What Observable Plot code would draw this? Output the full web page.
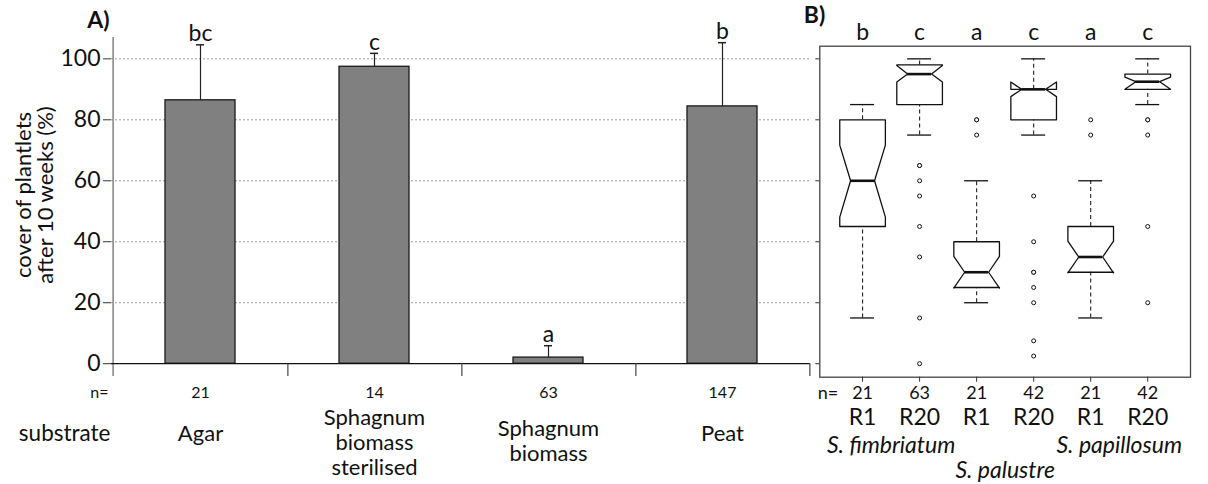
<!DOCTYPE html>
<html>
<head>
<meta charset="utf-8">
<script src="https://cdn.jsdelivr.net/npm/d3@7"></script>
<script src="https://cdn.jsdelivr.net/npm/@observablehq/plot@0.6"></script>
<style>
  body { margin: 0; background: #fff; }
  #wrap { position: relative; width: 1208px; height: 484px; font-family: Lato, sans-serif; }
  #wrap svg { position: absolute; left: 0; top: 0; overflow: visible; }
</style>
</head>
<body>
<div id="wrap"></div>
<script>
// ---------- Panel A data ----------
const substrates = ["Agar", "Sphagnum biomass sterilised", "Sphagnum biomass", "Peat"];
const substrateLabels = ["Agar", "Sphagnum\nbiomass\nsterilised", "Sphagnum\nbiomass", "Peat"];
const coverMean = [86.4, 97.4, 2.0, 84.4];
const coverUpper = [104.6, 101.8, 5.9, 105.3];
const lettersA = ["bc", "c", "a", "b"];
const nA = [21, 14, 63, 147];
const yTicks = [0, 20, 40, 60, 80, 100];

// ---------- Panel B data ----------
const groups = ["R1", "R20", "R1", "R20", "R1", "R20"];
const species = ["S. fimbriatum", "S. fimbriatum", "S. palustre", "S. palustre", "S. papillosum", "S. papillosum"];
const nB = [21, 63, 21, 42, 21, 42];
const lettersB = ["b", "c", "a", "c", "a", "c"];
const whiskerLow = [15, 75, 20, 75, 15, 85];
const q1 = [45, 85, 25, 80, 30, 90];
const notchLow = [48.1, 92.4, 24.8, 87.6, 29.8, 90];
const median = [60, 95, 30, 90, 35, 92.5];
const notchHigh = [71.7, 97.8, 35.2, 92.4, 40.2, 94];
const q3 = [80, 98, 40, 90, 45, 95];
const whiskerHigh = [85, 100, 60, 100, 60, 100];
const outliers = [
  [],
  [65, 65, 60, 55, 45, 35, 15, 0],
  [80, 80, 75],
  [55, 40, 30, 30, 25, 20, 7.5, 2.5],
  [80, 75],
  [80, 80, 75, 45, 20]
];

const FONT = "Lato, sans-serif";
const W = 1208, H = 484;

// ---------- Panel A ----------
const tableA = substrates.map((s, i) => ({
  substrate: s, label: substrateLabels[i], lines: substrateLabels[i].split("\n").length,
  mean: coverMean[i], upper: coverUpper[i], letter: lettersA[i], n: nA[i]
}));
const aLeft = 111, aRight = 810;
const stepA = (aRight - aLeft) / substrates.length; // paddingInner .6 + 2*paddingOuter .3 => step = range/n
const yDomA = [-4.2, 107];
const labelDy = {1: 57, 2: 64, 3: 65.5};

const plotA = Plot.plot({
  width: W, height: H,
  marginLeft: aLeft, marginRight: W - aRight, marginTop: 37, marginBottom: 108,
  style: {fontFamily: FONT, fontSize: "16px", background: "transparent", overflow: "visible", color: "#111"},
  x: {domain: substrates, paddingInner: 0.6, paddingOuter: 0.3, axis: null},
  y: {domain: yDomA, label: null},
  marks: [
    Plot.ruleY(yTicks.filter(d => d > 0), {stroke: "#9a9a9a", strokeDasharray: "2,2", strokeWidth: 1}),
    Plot.axisY({ticks: yTicks, tickSize: 8, tickPadding: 3, fontSize: 23, label: null, stroke: "#333"}),
    Plot.ruleX(tableA.slice(0, 1), {x: "substrate", dx: -stepA / 2, y1: yDomA[0], y2: yDomA[1], stroke: "#8a8a8a", strokeWidth: 1.6}),
    Plot.ruleX(tableA, {x: "substrate", y1: "mean", y2: "upper", stroke: "#222", strokeWidth: 1.2}),
    Plot.tickY(tableA, {x: "substrate", y: "upper", insetLeft: 31, insetRight: 31, stroke: "#222", strokeWidth: 1.5}),
    Plot.barY(tableA, {x: "substrate", y: "mean", fill: "#808080", stroke: "#1a1a1a", strokeWidth: 1.3}),
    Plot.ruleY([0], {stroke: "#111", strokeWidth: 1.3}),
    Plot.ruleX(tableA, {x: "substrate", dx: stepA / 2, y1: yDomA[0], y2: 0, stroke: "#444", strokeWidth: 1.2}),
    Plot.text(tableA, {x: "substrate", y: "upper", text: "letter", lineAnchor: "middle", dy: -11, fontSize: 23, fill: "#111"}),
    Plot.text(tableA, {x: "substrate", text: d => String(d.n), frameAnchor: "bottom", lineAnchor: "middle", dy: 16, fontSize: 16, fill: "#111"}),
    ...[1, 2, 3].map(k => Plot.text(tableA.filter(d => d.lines === k), {
      x: "substrate", text: "label", frameAnchor: "bottom", lineAnchor: "middle", dy: labelDy[k],
      lineHeight: 1.12, fontSize: 22, fill: "#111"
    })),
    Plot.text(["n="], {frameAnchor: "bottom-left", textAnchor: "end", lineAnchor: "middle", dx: -3, dy: 16, fontSize: 16, fill: "#111"}),
    Plot.text(["substrate"], {frameAnchor: "bottom-left", textAnchor: "end", lineAnchor: "middle", dx: -1, dy: 57, fontSize: 22.5, fill: "#111"}),
    Plot.text(["A)"], {frameAnchor: "top-left", textAnchor: "end", lineAnchor: "middle", dx: -2, dy: -17, fontSize: 23, fontWeight: "bold", fill: "#111"}),
    Plot.text(["cover of plantlets\nafter 10 weeks (%)"], {frameAnchor: "left", rotate: -90, textAnchor: "middle", lineAnchor: "middle", dx: -77, dy: -12, lineHeight: 1.0, fontSize: 22, fill: "#111"})
  ]
});

// ---------- Panel B ----------
const boxes = groups.map((g, i) => ({
  idx: i + 1, group: g, species: species[i], n: nB[i], letter: lettersB[i],
  wlo: whiskerLow[i], q1: q1[i], lo: notchLow[i], med: median[i], hi: notchHigh[i], q3: q3[i], whi: whiskerHigh[i]
}));
const boxHalf = 0.4, notchHalf = 0.21;
const outline = boxes.flatMap(b => [
  [b.idx - boxHalf, b.q1], [b.idx - boxHalf, b.lo], [b.idx - notchHalf, b.med], [b.idx - boxHalf, b.hi], [b.idx - boxHalf, b.q3],
  [b.idx + boxHalf, b.q3], [b.idx + boxHalf, b.hi], [b.idx + notchHalf, b.med], [b.idx + boxHalf, b.lo], [b.idx + boxHalf, b.q1],
  [b.idx - boxHalf, b.q1]
].map(([x, y]) => ({idx: b.idx, x, y})));
const outlierRows = boxes.flatMap((b, i) => outliers[i].map(v => ({idx: b.idx, value: v})));
const speciesNames = Array.from(new Set(species));
const speciesRows = speciesNames.map(s => ({
  species: s,
  x: d3.mean(boxes.filter(b => b.species === s), b => b.idx)
}));
const bLeft = 819.3, bRight = 1190;

const plotB = Plot.plot({
  width: W, height: H,
  marginLeft: bLeft, marginRight: W - bRight, marginTop: 45.7, marginBottom: 107.3,
  style: {fontFamily: FONT, fontSize: "16px", background: "transparent", overflow: "visible", color: "#111"},
  x: {domain: [0.25, 6.75]},
  y: {domain: [-4.43, 104.15]},
  marks: [
    Plot.frame({stroke: "#444", strokeWidth: 1.3}),
    Plot.axisY({ticks: yTicks, tickSize: 4, tickFormat: () => "", label: null, stroke: "#333"}),
    Plot.axisX({ticks: boxes.map(b => b.idx), tickSize: 5, tickFormat: () => "", label: null, stroke: "#333"}),
    Plot.ruleX(boxes, {x: "idx", y1: "q3", y2: "whi", stroke: "#222", strokeDasharray: "4,3", strokeWidth: 1.1}),
    Plot.ruleX(boxes, {x: "idx", y1: "wlo", y2: "q1", stroke: "#222", strokeDasharray: "4,3", strokeWidth: 1.1}),
    Plot.ruleY(boxes, {y: "whi", x1: d => d.idx - notchHalf, x2: d => d.idx + notchHalf, stroke: "#111", strokeWidth: 1.3}),
    Plot.ruleY(boxes, {y: "wlo", x1: d => d.idx - notchHalf, x2: d => d.idx + notchHalf, stroke: "#111", strokeWidth: 1.3}),
    Plot.line(outline, {x: "x", y: "y", z: "idx", stroke: "#111", strokeWidth: 1.3, curve: "linear"}),
    Plot.ruleY(boxes, {y: "med", x1: d => d.idx - notchHalf, x2: d => d.idx + notchHalf, stroke: "#111", strokeWidth: 2.6}),
    Plot.dot(outlierRows, {x: "idx", y: "value", r: 2, stroke: "#111", strokeWidth: 1, fill: "white"}),
    Plot.text(boxes, {x: "idx", text: "letter", frameAnchor: "top", lineAnchor: "middle", dy: -14, fontSize: 23, fill: "#111"}),
    Plot.text(boxes, {x: "idx", text: d => String(d.n), frameAnchor: "bottom", lineAnchor: "middle", dy: 16, fontSize: 18, fill: "#111"}),
    Plot.text(boxes, {x: "idx", text: "group", frameAnchor: "bottom", lineAnchor: "middle", dy: 40, fontSize: 23, fill: "#111"}),
    Plot.text(speciesRows.filter(d => d.species !== "S. palustre"), {x: "x", text: "species", frameAnchor: "bottom", lineAnchor: "middle", dy: 68, fontSize: 23, fontStyle: "italic", fill: "#111"}),
    Plot.text(speciesRows.filter(d => d.species === "S. palustre"), {x: "x", text: "species", frameAnchor: "bottom", lineAnchor: "middle", dy: 93, fontSize: 23, fontStyle: "italic", fill: "#111"}),
    Plot.text(["n="], {frameAnchor: "bottom-left", textAnchor: "start", lineAnchor: "middle", dx: -2, dy: 16, fontSize: 18, fill: "#111"}),
    Plot.text(["B)"], {frameAnchor: "top-left", textAnchor: "start", lineAnchor: "middle", dx: -16, dy: -31, fontSize: 23, fontWeight: "bold", fill: "#111"})
  ]
});

const wrap = document.getElementById("wrap");
wrap.appendChild(plotA);
wrap.appendChild(plotB);
</script>
</body>
</html>
